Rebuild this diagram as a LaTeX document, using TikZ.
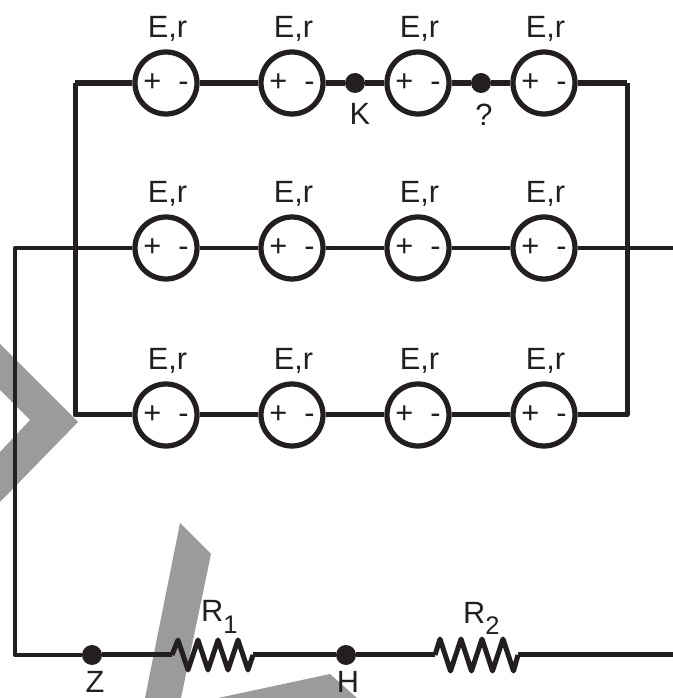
\documentclass[tikz,border=0pt]{standalone}
\usepackage{fontspec}
\setmainfont{Liberation Sans}
\definecolor{inkblack}{HTML}{231F20}
\definecolor{markgray}{HTML}{9B9B9B}
\newcommand{\cellsigns}{+\ \ -}
\newcommand{\sublabel}[2]{#1\raisebox{-0.24cm}{\fontsize{14.5}{15}\selectfont #2}}
\tikzset{
	wire/.style={draw=inkblack,line width=0.1cm,line join=round},
	thinwire/.style={draw=inkblack,line width=0.095cm,line join=round},
	fatwire/.style={draw=inkblack,line width=0.12cm,line join=round},
	cell/.style={circle,draw=inkblack,line width=0.105cm,minimum size=1.24cm,inner sep=0pt,text=inkblack,label={[label distance=0.03cm,xshift=0.03cm]above:{E,r}}},
	junction/.style={circle,fill=inkblack,minimum size=0.4cm,inner sep=0pt},
	every label/.style={text=inkblack},
}
\begin{document}
\begin{tikzpicture}[node distance=2.52cm,font=\fontsize{17.5}{20}\selectfont]
	\useasboundingbox (0,0) rectangle (13.46,13.96);
	% watermark
	\fill[markgray] (0,7.08) -- (1.56,5.52) -- (0,3.92) -- (0,4.92) -- (0.6,5.56) -- (0,6.16) -- cycle;
	\fill[markgray] (3.6,3.5) -- (4.22,2.88) -- (3.62,0) -- (2.9,0) -- cycle;
	\fill[markgray] (6.6,0.48) -- (4.36,0) -- (7.14,0) -- cycle;
	% cells
	\node (c11) [cell] at (3.32,12.30) {\cellsigns};
	\node (c12) [cell,right of=c11] {\cellsigns};
	\node (c13) [cell,right of=c12] {\cellsigns};
	\node (c14) [cell,right of=c13] {\cellsigns};
	\node (c21) [cell,node distance=3.30cm,below of=c11] {\cellsigns};
	\node (c22) [cell,right of=c21] {\cellsigns};
	\node (c23) [cell,right of=c22] {\cellsigns};
	\node (c24) [cell,right of=c23] {\cellsigns};
	\node (c31) [cell,node distance=3.34cm,below of=c21] {\cellsigns};
	\node (c32) [cell,right of=c31] {\cellsigns};
	\node (c33) [cell,right of=c32] {\cellsigns};
	\node (c34) [cell,right of=c33] {\cellsigns};
	% junctions
	\node (K) [junction,node distance=1.26cm,right of=c12,label={[xshift=0.1cm,yshift=-0.08cm]below:K}] {};
	\node (Q) [junction,node distance=1.26cm,right of=c13,label={[xshift=0.06cm,yshift=-0.08cm]below:?}] {};
	\node (Z) [junction,label={[inner sep=0pt,xshift=0.06cm,yshift=-0.12cm]below:Z}] at (1.84,0.86) {};
	\node (H) [junction,node distance=5.08cm,right of=Z,label={[inner sep=0pt,xshift=0.04cm,yshift=-0.12cm]below:H}] {};
	% rails
	\coordinate[node distance=1.82cm,left of=c11] (topleft);
	\coordinate[node distance=1.66cm,right of=c14] (topright);
	\coordinate[node distance=1.82cm,left of=c31] (lowleft);
	\coordinate[node distance=1.66cm,right of=c34] (lowright);
	\coordinate[node distance=3.02cm,left of=c21] (midleft);
	\coordinate[node distance=2.58cm,right of=c24] (midright);
	\coordinate (botleft) at (midleft |- Z);
	% resistors
	\coordinate[node distance=1.60cm,right of=Z] (r1a);
	\coordinate[node distance=3.22cm,right of=Z] (r1b);
	\coordinate[node distance=1.78cm,right of=H] (r2a);
	\coordinate[node distance=3.44cm,right of=H] (r2b);
	\coordinate[node distance=6.54cm,right of=H] (botright);
	\node (R1) [text=inkblack,anchor=base west] at (3.90,1.52) {\sublabel{R}{1}};
	\node (R2) [text=inkblack,anchor=base west] at (9.14,1.50) {\sublabel{R}{2}};
	% wires
	\draw[fatwire] (topleft) -- (c11);
	\draw[fatwire] (c11) -- (c12);
	\draw[fatwire] (c12) -- (K);
	\draw[fatwire] (K) -- (c13);
	\draw[fatwire] (c13) -- (Q);
	\draw[fatwire] (Q) -- (c14);
	\draw[fatwire] (c14) -- (topright);
	\draw[wire] (topleft) -- (lowleft) -- (c31);
	\draw[wire] (topright) -- (lowright) -- (c34);
	\draw[wire] (c31) -- (c32);
	\draw[wire] (c32) -- (c33);
	\draw[wire] (c33) -- (c34);
	\draw[thinwire] (c21) -- (midleft) -- (botleft) -- (Z);
	\draw[thinwire] (c21) -- (c22);
	\draw[thinwire] (c22) -- (c23);
	\draw[thinwire] (c23) -- (c24);
	\draw[thinwire] (c24) -- (midright);
	\draw[wire] (Z) -- (r1a);
	\draw[wire] (r1a) -- ++(0.12,0.30) -- ++(0.20,-0.60) -- ++(0.20,0.60) -- ++(0.20,-0.60) -- ++(0.20,0.60) -- ++(0.20,-0.60) -- ++(0.20,0.60) -- ++(0.20,-0.60) -- (r1b);
	\draw[wire] (r1b) -- (H);
	\draw[wire] (H) -- (r2a);
	\draw[wire] (r2a) -- ++(0.10,0.32) -- ++(0.21,-0.64) -- ++(0.21,0.64) -- ++(0.21,-0.64) -- ++(0.21,0.64) -- ++(0.21,-0.64) -- ++(0.21,0.64) -- ++(0.21,-0.64) -- (r2b);
	\draw[wire] (r2b) -- (botright);
\end{tikzpicture}
\end{document}
